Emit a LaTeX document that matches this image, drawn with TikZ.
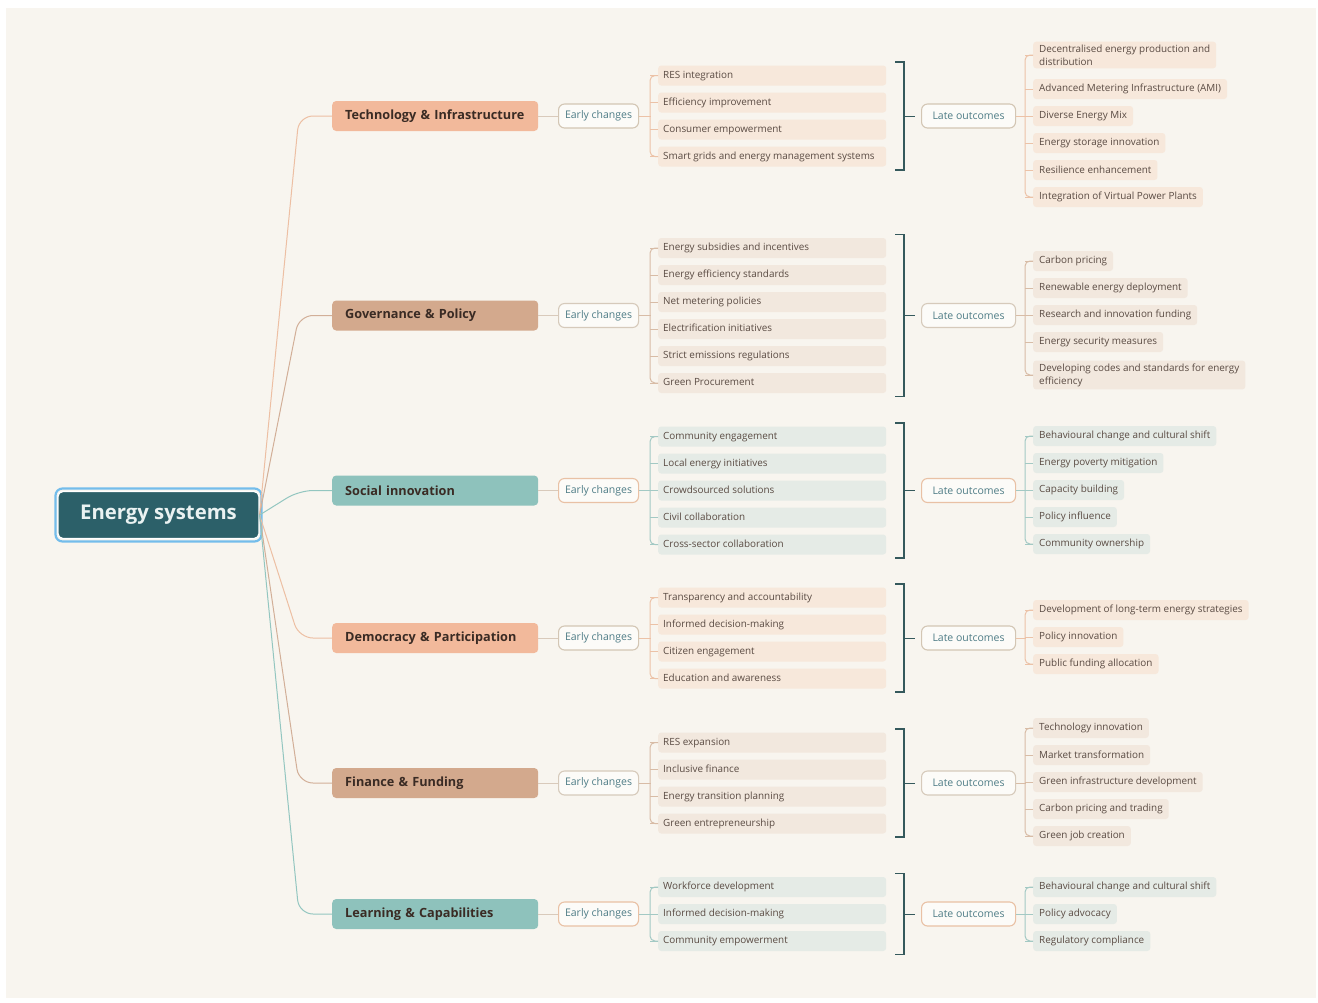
\documentclass[tikz,border=0pt]{standalone}
\usepackage{fontspec}
\setmainfont{Open Sans}
\usetikzlibrary{calc}

\definecolor{bg}{HTML}{F8F5EF}
\definecolor{rootfill}{HTML}{2C6069}
\definecolor{rootring}{HTML}{74BDEB}
\definecolor{roottext}{HTML}{EAF2F2}
\definecolor{cattext}{HTML}{3A2B24}
\definecolor{itemtext}{HTML}{5A4B43}
\definecolor{pilltext}{HTML}{4E7C86}
\definecolor{pillfill}{HTML}{FCFBF8}
\definecolor{stemcol}{HTML}{D9CABB}
\definecolor{brkcol}{HTML}{35595C}
% peach family
\definecolor{peachcat}{HTML}{F2B99B}
\definecolor{peachfill}{HTML}{F7E8DB}
\definecolor{peachline}{HTML}{ECC2A7}
\definecolor{peachpill}{HTML}{D3C6B4}
\definecolor{peachroot}{HTML}{EDBFA3}
% tan family
\definecolor{tancat}{HTML}{D3A98D}
\definecolor{tanfill}{HTML}{F2E8DE}
\definecolor{tanline}{HTML}{D8BCA6}
\definecolor{tanpill}{HTML}{D6CABB}
\definecolor{tanroot}{HTML}{D2AF98}
% teal family
\definecolor{tealcat}{HTML}{8EC2BC}
\definecolor{tealfill}{HTML}{E5EBE6}
\definecolor{tealline}{HTML}{A3C9C4}
\definecolor{tealpill}{HTML}{E9C1A5}
\definecolor{tealroot}{HTML}{93C6C0}

\tikzset{
  catbox/.style={anchor=west, rounded corners=4, minimum height=30, text width=180,
    inner xsep=13, inner ysep=0, align=left,
    font=\fontsize{12.7}{14}\selectfont\bfseries, text=cattext},
  pill/.style={anchor=west, draw, line width=1.1, rounded corners=6, fill=pillfill,
    minimum height=24, inner sep=0, font=\fontsize{10.5}{12}\selectfont, text=pilltext},
  eitem/.style={anchor=west, rounded corners=3, minimum height=20, minimum width=228,
    inner xsep=5, inner ysep=0, text height=7.5, text depth=2.5,
    font=\fontsize{9.9}{13}\selectfont, text=itemtext},
  oitem/.style={anchor=west, rounded corners=3, minimum height=20,
    inner xsep=6, inner ysep=3, align=left, font=\fontsize{9.9}{13}\selectfont, text=itemtext},
  link/.style={line width=1},
  brk/.style={draw=brkcol, line width=1.3},
}

% #1 id, #2 y, #3 label, #4 colour family, #5 number of early items,
% #6 early items, #7 number of outcomes, #8 outcomes as y/text
\newcommand\branch[8]{%
  \node[catbox, fill=#4cat] (#1) at (332,#2) {#3};
  \draw[link, draw=#4root, rounded corners=14] (root.east) -- (299,#2) -- (#1.west);
  \node[pill, draw=#4pill, minimum width=80] (#1-ec) at (558,#2) {Early changes};
  \draw[link, draw=stemcol] (#1) -- (#1-ec);
  \foreach \t [count=\i] in {#6} {
    \pgfmathsetmacro\yy{#2+(\i-1-(#5-1)/2)*27}
    \node[eitem, fill=#4fill] (#1-e\i) at (658,\yy) {\makebox[218pt][l]{\t}};
    \draw[link, draw=#4line] (#1-e\i.west) -- ++(-8,0);
  }
  \draw[link, draw=#4line, rounded corners=5] (#1-e1.west) -- ++(-8,0) |- (#1-e#5.west);
  \draw[link, draw=#4line] (#1-ec.east) -- ++(12,0);
  % closing bracket of the early changes
  \pgfmathsetmacro\ytop{#2-(#5-1)/2*27-13.5}
  \pgfmathsetmacro\ybot{#2+(#5-1)/2*27+13.5}
  \coordinate (#1-bt) at (904,\ytop);
  \coordinate (#1-bb) at (904,\ybot);
  \coordinate (#1-bm) at (904,#2);
  \draw[brk] ($(#1-bt)+(-9,0)$) -- (#1-bt) -- (#1-bb) -- ($(#1-bb)+(-9,0)$);
  \node[pill, draw=#4pill, minimum width=94] (#1-lo) at (921,#2) {Late outcomes};
  \draw[brk, line width=1] (#1-bm) -- ($(#1-lo.west)+(-6,0)$);
  \foreach \yy/\t [count=\i] in {#8} {
    \node[oitem, fill=#4fill] (#1-o\i) at (1033,\yy) {\t};
    \draw[link, draw=#4line] (#1-o\i.west) -- ++(-8,0);
  }
  \draw[link, draw=#4line, rounded corners=5] (#1-o1.west) -- ++(-8,0) |- (#1-o#7.west);
  \draw[link, draw=#4line] (#1-lo.east) -- ++(10,0);
}

\begin{document}
\begin{tikzpicture}[x=1pt, y=-1pt]
  \useasboundingbox (0,0) rectangle (1318,1002);
  \fill[white] (0,0) rectangle (1318,1002);
  \fill[bg] (6,8) rectangle (1316,998);

  % central topic
  \draw[rootring, line width=2.2, rounded corners=7] (55.5,488.5) rectangle (261.5,541.5);
  \node[fill=rootfill, draw=white, line width=1.2, rounded corners=5,
        minimum width=201, minimum height=47, inner sep=0,
        font=\fontsize{20.3}{23}\selectfont\bfseries, text=roottext]
        (root) at (158.5,515) {Energy systems};

  \branch{tech}{116}{Technology \& Infrastructure}{peach}{4}%
    {RES integration, Efficiency improvement, Consumer empowerment,
     Smart grids and energy management systems}{6}%
    {55/{Decentralised energy production and\\distribution},
     89/Advanced Metering Infrastructure (AMI),
     116/Diverse Energy Mix,
     143/Energy storage innovation,
     170/Resilience enhancement,
     197/Integration of Virtual Power Plants}

  \branch{gov}{315.5}{Governance \& Policy}{tan}{6}%
    {Energy subsidies and incentives, Energy efficiency standards,
     Net metering policies, Electrification initiatives,
     Strict emissions regulations, Green Procurement}{5}%
    {261/Carbon pricing,
     288/Renewable energy deployment,
     315/Research and innovation funding,
     342/Energy security measures,
     375/{Developing codes and standards for energy\\efficiency}}

  \branch{soc}{490.5}{Social innovation}{teal}{5}%
    {Community engagement, Local energy initiatives, Crowdsourced solutions,
     Civil collaboration, Cross-sector collaboration}{5}%
    {436/Behavioural change and cultural shift,
     463/Energy poverty mitigation,
     490/Capacity building,
     517/Policy influence,
     544/Community ownership}

  \branch{dem}{638}{Democracy \& Participation}{peach}{4}%
    {Transparency and accountability, Informed decision-making,
     Citizen engagement, Education and awareness}{3}%
    {610/Development of long-term energy strategies,
     637/Policy innovation,
     664/Public funding allocation}

  \branch{fin}{783}{Finance \& Funding}{tan}{4}%
    {RES expansion, Inclusive finance, Energy transition planning,
     Green entrepreneurship}{5}%
    {728/Technology innovation,
     755/Market transformation,
     782/Green infrastructure development,
     809/Carbon pricing and trading,
     836/Green job creation}

  \branch{learn}{914}{Learning \& Capabilities}{teal}{3}%
    {Workforce development, Informed decision-making, Community empowerment}{3}%
    {887/Behavioural change and cultural shift,
     914/Policy advocacy,
     941/Regulatory compliance}
\end{tikzpicture}
\end{document}
